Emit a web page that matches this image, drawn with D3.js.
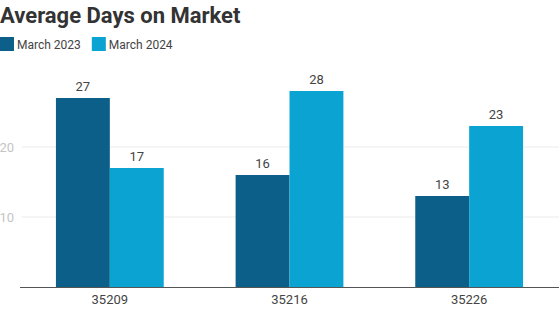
<!DOCTYPE html>
<html>
<head>
<meta charset="utf-8">
<script src="https://cdn.jsdelivr.net/npm/d3@7"></script>
<style>
  html, body { margin: 0; padding: 0; background: #fff; }
  svg { display: block; font-family: Roboto, "Noto Sans", sans-serif; }
</style>
</head>
<body>
<svg id="chart" width="559" height="325"></svg>
<script>
// Average days on market per ZIP code
const zipCodes = ["35209", "35216", "35226"];
const seriesNames = ["March 2023", "March 2024"];
const march2023 = [27, 16, 13];
const march2024 = [17, 28, 23];
const yTicks = [10, 20];
const colors = ["#0b5f88", "#0aa3d2"];

const svg = d3.select("#chart");
const plot = { left: 20, right: 559, top: 60, bottom: 287 };

svg.append("text")
  .attr("x", 0).attr("y", 23)
  .attr("font-size", 22).attr("font-weight", 700)
  .attr("fill", "#333")
  .text("Average Days on Market");

// Legend
const legend = svg.append("g");
let lx = 0;
seriesNames.forEach((name, i) => {
  const g = legend.append("g").attr("transform", `translate(${lx},0)`);
  g.append("rect").attr("x", 0).attr("y", 37).attr("width", 14).attr("height", 14).attr("fill", colors[i]);
  const t = g.append("text").attr("x", 17).attr("y", 49)
    .attr("font-size", 12).attr("fill", "#444").text(name);
  lx += 17 + t.node().getComputedTextLength() + 11;
});

const x0 = d3.scaleBand().domain(zipCodes)
  .range([plot.left, plot.right]).paddingInner(0.4).paddingOuter(0.2);
const x1 = d3.scaleBand().domain(seriesNames).range([0, x0.bandwidth()]);
const y = d3.scaleLinear().domain([0, 10]).range([plot.bottom, plot.bottom - 70]);

// Gridlines and y tick labels
const grid = svg.append("g");
grid.selectAll("line").data(yTicks).join("line")
  .attr("x1", plot.left + 2).attr("x2", plot.right)
  .attr("y1", d => y(d)).attr("y2", d => y(d))
  .attr("stroke", "#ebebeb").attr("stroke-width", 1);
grid.selectAll("text").data(yTicks).join("text")
  .attr("x", 14).attr("y", d => y(d) + 4.5)
  .attr("text-anchor", "end").attr("font-size", 13).attr("fill", "#c4c4c4")
  .text(d => d);

const rows = zipCodes.map((z, i) => ({ zip: z, values: [march2023[i], march2024[i]] }));

const groups = svg.append("g").selectAll("g").data(rows).join("g")
  .attr("transform", d => `translate(${x0(d.zip)},0)`);

const cells = d => d.values.map((v, i) => ({ key: seriesNames[i], value: v, color: colors[i] }));

groups.selectAll("rect").data(cells).join("rect")
  .attr("x", d => x1(d.key)).attr("width", x1.bandwidth())
  .attr("y", d => y(d.value)).attr("height", d => y(0) - y(d.value))
  .attr("fill", d => d.color);

groups.selectAll("text").data(cells).join("text")
  .attr("x", d => x1(d.key) + x1.bandwidth() / 2)
  .attr("y", d => y(d.value) - 7)
  .attr("text-anchor", "middle").attr("font-size", 13).attr("fill", "#444")
  .text(d => d.value);

// Baseline axis with category labels
svg.append("line")
  .attr("x1", plot.left).attr("x2", plot.right)
  .attr("y1", plot.bottom + 0.5).attr("y2", plot.bottom + 0.5)
  .attr("stroke", "#555").attr("stroke-width", 1);

svg.append("g").selectAll("text").data(zipCodes).join("text")
  .attr("x", d => x0(d) + x0.bandwidth() / 2)
  .attr("y", 304)
  .attr("text-anchor", "middle").attr("font-size", 13).attr("fill", "#444")
  .text(d => d);
</script>
</body>
</html>
